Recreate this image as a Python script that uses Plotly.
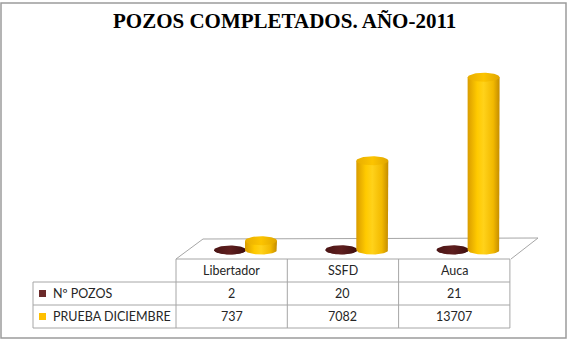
import numpy as np
import plotly.graph_objects as go

# ---- data ----
categories = ["Libertador", "SSFD", "Auca"]
series_names = ["Nº POZOS", "PRUEBA DICIEMBRE"]
pozos = [2, 20, 21]
prueba = [737, 7082, 13707]
title_text = "POZOS COMPLETADOS. AÑO-2011"

W, H = 569, 340
# pixel helpers for decorations (paper coords)
def px(x):
    return x / W
def py(y):
    return 1 - y / H

# axis geometry
col_w = 111.3          # px per category
cat0_px = 245.5        # px of first category centre (mid depth)
zero_py = 250.0        # px of value 0
k = 0.0126             # px per unit
x_range = [-cat0_px / col_w, (W - cat0_px) / col_w]
y_range = [-(H - zero_py) / k, zero_py / k]

half_w = 16.0 / col_w          # cylinder half width (x units)
half_h = 4.5 / k               # ellipse half height (value units)
offset = 15.5 / col_w          # series offset from category centre

series_vals = [pozos, prueba]
series_offsets = [-offset, offset]
body_scales = [
    [[0, "#3e0f0f"], [0.35, "#6a2424"], [0.6, "#5a1c1c"], [1, "#3a0d0d"]],
    [[0, "#d99c00"], [0.3, "#ffca00"], [0.5, "#ffd21a"], [0.8, "#f2b900"], [1, "#c48c00"]],
]
top_scales = [
    [[0, "#4a1414"], [0.5, "#5e1e1e"], [1, "#3e0f0f"]],
    [[0, "#e8ad00"], [0.5, "#fcc400"], [1, "#e0a600"]],
]
legend_colors = ["#6b2a2a", "#ffc000"]

fig = go.Figure()
t_low = np.linspace(0, -np.pi, 40)     # lower half arc, right -> left
t_full = np.linspace(0, 2 * np.pi, 80)

for si, vals in enumerate(series_vals):
    for ci, v in enumerate(vals):
        cx = ci + series_offsets[si]
        # body: left side up, across, right side down, lower arc back
        bx = [cx - half_w, cx - half_w, cx + half_w, cx + half_w]
        by = [0, v, v, 0]
        ax = list(cx + half_w * np.cos(t_low))
        ay = list(0 + half_h * np.sin(t_low))
        fig.add_trace(go.Scatter(
            x=bx + ax, y=by + ay, mode="lines", line=dict(width=0),
            fill="toself",
            fillgradient=dict(type="horizontal", colorscale=body_scales[si]),
            hoverinfo="skip", showlegend=False))
        # top ellipse
        fig.add_trace(go.Scatter(
            x=list(cx + half_w * np.cos(t_full)),
            y=list(v + half_h * np.sin(t_full)),
            mode="lines", line=dict(width=0), fill="toself",
            fillgradient=dict(type="horizontal", colorscale=top_scales[si]),
            hoverinfo="skip", showlegend=False))

shapes = []
grid = "#a6a6a6"
def line(x0, y0, x1, y1, color=grid, width=1):
    shapes.append(dict(type="line", xref="paper", yref="paper",
                       x0=px(x0), y0=py(y0), x1=px(x1), y1=py(y1),
                       line=dict(color=color, width=width), layer="below"))

# outer border
shapes.append(dict(type="rect", xref="paper", yref="paper",
                   x0=px(1), y0=py(338), x1=px(566), y1=py(3),
                   line=dict(color="#9c9c9c", width=1.5), layer="below"))
# floor
line(176, 259, 203, 239)
line(203, 239, 538, 238)
line(538, 238, 511, 259)

# table
col_x = [176 + 111.3 * i for i in range(4)]
row_y = [259, 282, 305, 328]
leg_x0 = 33
line(col_x[0], row_y[0], col_x[3], row_y[0])
for r in range(1, 4):
    line(leg_x0, row_y[r], col_x[3], row_y[r])
for c in range(4):
    line(col_x[c], row_y[0], col_x[c], row_y[3])
line(leg_x0, row_y[1], leg_x0, row_y[3])

annotations = []
font_t = dict(family="Lato, Open Sans, sans-serif", size=12.5, color="#262626")
def text(x, y, s, anchor="center"):
    annotations.append(dict(xref="paper", yref="paper", x=px(x), y=py(y),
                            text=s, showarrow=False, font=font_t,
                            xanchor=anchor, yanchor="middle"))

for c, name in enumerate(categories):
    cxp = (col_x[c] + col_x[c + 1]) / 2
    text(cxp, (row_y[0] + row_y[1]) / 2, name)
    text(cxp, (row_y[1] + row_y[2]) / 2, str(pozos[c]))
    text(cxp, (row_y[2] + row_y[3]) / 2, str(prueba[c]))

for r, name in enumerate(series_names):
    yc = (row_y[r + 1] + row_y[r + 2]) / 2
    shapes.append(dict(type="rect", xref="paper", yref="paper",
                       x0=px(39), x1=px(46), y0=py(yc + 3.5), y1=py(yc - 3.5),
                       line=dict(width=0), fillcolor=legend_colors[r]))
    text(51, yc, name, anchor="left")

annotations.append(dict(xref="paper", yref="paper", x=px(284), y=py(21),
                        text="<b>" + title_text + "</b>", showarrow=False,
                        font=dict(family="Liberation Serif, Times New Roman, serif",
                                  size=21, color="#000000"),
                        xanchor="center", yanchor="middle"))

fig.update_layout(
    width=W, height=H, margin=dict(l=0, r=0, t=0, b=0),
    paper_bgcolor="white", plot_bgcolor="rgba(0,0,0,0)",
    xaxis=dict(range=x_range, visible=False, fixedrange=True),
    yaxis=dict(range=y_range, visible=False, fixedrange=True),
    shapes=shapes, annotations=annotations, showlegend=False,
)
fig.write_html("out.html")
